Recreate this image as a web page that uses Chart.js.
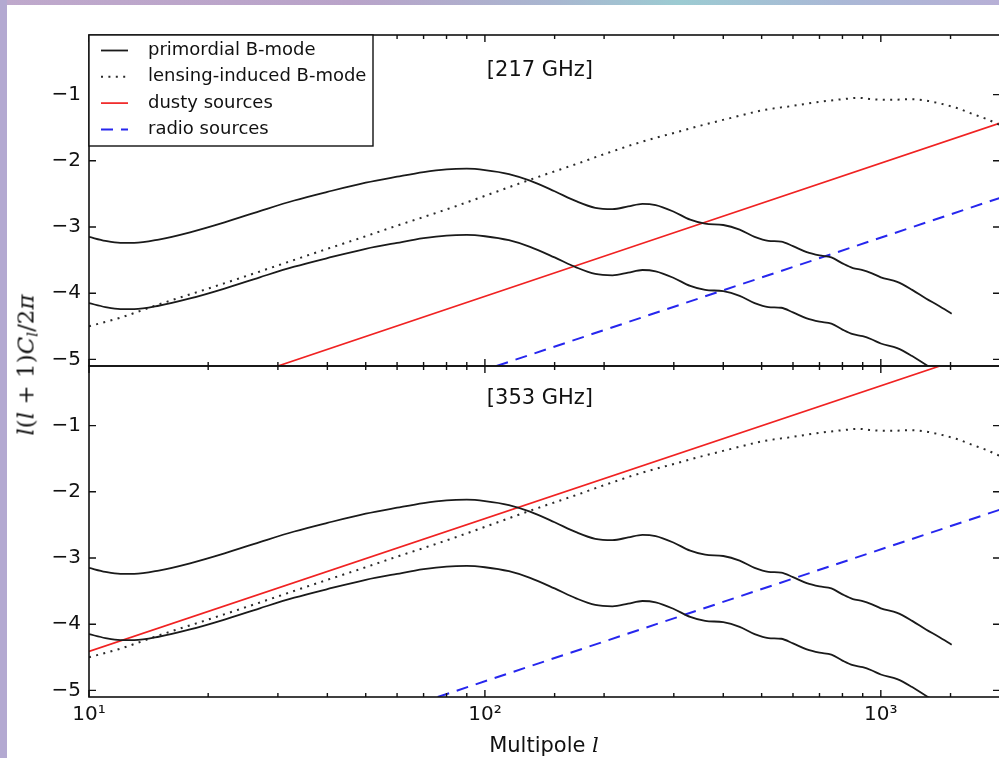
<!DOCTYPE html>
<html>
<head>
<meta charset="utf-8">
<script src="https://cdn.jsdelivr.net/npm/chart.js@4.4.1/dist/chart.umd.min.js"></script>
<style>
    html, body { margin: 0; padding: 0; overflow: hidden; background: #fff; }
    #frame { position: relative; width: 999px; height: 758px; overflow: hidden; background: #fff; }
    #topband { position: absolute; left: 0; top: 0; width: 999px; height: 5px;
        background: linear-gradient(to right, #bfa9cc 0%, #b9a3c9 35%, #a9b6d0 55%, #9ccbd2 68%, #aab8d6 84%, #b7b0d6 100%); }
    #leftband { position: absolute; left: 0; top: 0; width: 7px; height: 758px; background: #b3a9d1; }
    canvas { position: absolute; left: 0; top: 0; }
    #ylabel { position: absolute; left: 27px; top: 365px; transform: translate(-50%, -50%) rotate(-90deg);
        font: 23px "DejaVu Serif"; color: #111; white-space: nowrap; }
    #ylabel sub { font-size: 15px; vertical-align: -4px; }
    #xlabel { position: absolute; left: 544px; top: 745px; transform: translate(-50%, -50%);
        font: 21px "DejaVu Sans"; color: #111; white-space: nowrap; }
    #xlabel i { font-family: "DejaVu Serif"; }
</style>
</head>
<body>
<div id="frame">
    <div id="topband"></div>
    <div id="leftband"></div>
    <canvas id="topChart" width="1010" height="758"></canvas>
    <canvas id="bottomChart" width="1010" height="758"></canvas>
    <div id="ylabel"><i>l</i>(<i>l</i> + 1)<i>C<sub>l</sub></i>/2<i>π</i></div>
    <div id="xlabel">Multipole <i>l</i></div>
</div>
<script>
// multipoles and log10 spectra
const ells = [10, 11, 12, 13, 15, 18, 22, 27, 33, 40, 50, 60, 70, 80, 90, 100, 115, 130, 150, 170,
    190, 210, 230, 250, 270, 300, 330, 360, 400, 440, 480, 520, 560, 600, 650, 700, 750, 800, 850, 900,
    950, 1000, 1100, 1200, 1300, 1400, 1510];
const primordialHigh = [-3.15, -3.21, -3.24, -3.24, -3.19, -3.08, -2.93, -2.76, -2.60, -2.47, -2.33, -2.24, -2.17, -2.13, -2.12, -2.14, -2.20, -2.30, -2.46, -2.61,
    -2.71, -2.73, -2.69, -2.65, -2.67, -2.77, -2.89, -2.95, -2.97, -3.04, -3.15, -3.21, -3.22, -3.29, -3.38, -3.43, -3.46, -3.55, -3.62, -3.65,
    -3.70, -3.76, -3.83, -3.95, -4.08, -4.19, -4.31];
const primordialLow = [-4.15, -4.21, -4.24, -4.24, -4.19, -4.08, -3.93, -3.76, -3.60, -3.47, -3.33, -3.24, -3.17, -3.13, -3.12, -3.14, -3.20, -3.30, -3.46, -3.61,
    -3.71, -3.73, -3.69, -3.65, -3.67, -3.77, -3.89, -3.95, -3.97, -4.04, -4.15, -4.21, -4.22, -4.29, -4.38, -4.43, -4.46, -4.55, -4.62, -4.65,
    -4.70, -4.76, -4.83, -4.95, -5.08, -5.19, -5.31];
const lensingEll = [10, 12, 15, 20, 25, 30, 40, 50, 60, 70, 85, 100, 120, 140, 170, 200, 250, 300, 350, 420,
    500, 600, 700, 800, 880, 950, 1050, 1200, 1300, 1400, 1550, 1700, 1850, 2000];
const lensing = [-4.50, -4.37, -4.17, -3.93, -3.74, -3.58, -3.33, -3.14, -2.98, -2.85, -2.68, -2.53, -2.36, -2.22, -2.05, -1.90, -1.71, -1.58, -1.47, -1.35,
    -1.24, -1.17, -1.11, -1.07, -1.05, -1.07, -1.08, -1.07, -1.09, -1.13, -1.20, -1.29, -1.37, -1.46];
const dustyEll217 = [30, 2000];
const dusty217 = [-5.1, -1.43];
const radioEll217 = [107, 2000];
const radio217 = [-5.1, -2.56];
const dustyEll353 = [10, 1410];
const dusty353 = [-4.41, -0.1];
const radioEll353 = [76, 2000];
const radio353 = [-5.1, -2.27];

const yTicks = [-5, -4, -3, -2, -1];
const xMajor = [10, 100, 1000];
const xMajorLabels = ['10\u00b9', '10\u00b2', '10\u00b3'];
const panelLabels = ['[217 GHz]', '[353 GHz]'];

Chart.defaults.font.family = '"DejaVu Sans"';
Chart.defaults.font.size = 20;
Chart.defaults.color = '#111';

function pts(xs, ys) {
    return xs.map((x, i) => ({ x: x, y: ys[i] }));
}

function buildDatasets(dEll, dVal, rEll, rVal) {
    return [
        { label: 'primordial B-mode', inLegend: true, data: pts(ells, primordialHigh), borderColor: '#1a1a1a', borderWidth: 1.8 },
        { label: 'primordial B-mode', inLegend: false, data: pts(ells, primordialLow), borderColor: '#1a1a1a', borderWidth: 1.8 },
        { label: 'lensing-induced B-mode', inLegend: true, data: pts(lensingEll, lensing), borderColor: '#2a2a2a', borderWidth: 2, borderDash: [2, 5.4] },
        { label: 'dusty sources', inLegend: true, data: pts(dEll, dVal), borderColor: '#f02222', borderWidth: 1.7 },
        { label: 'radio sources', inLegend: true, data: pts(rEll, rVal), borderColor: '#2626ee', borderWidth: 2, borderDash: [12, 8] }
    ];
}

// frame, inward ticks, panel tag and legend box (matplotlib look)
const panelDecor = {
    id: 'panelDecor',
    afterDatasetsDraw(chart, args, opts) {
        const ctx = chart.ctx, a = chart.chartArea;
        const xs = chart.scales.x, ys = chart.scales.y;
        ctx.save();
        ctx.strokeStyle = '#111';
        ctx.lineWidth = 1.4;
        ctx.beginPath();
        xs.ticks.forEach(function(t) {
            const px = xs.getPixelForValue(t.value);
            const len = xMajor.some(m => Math.abs(m - t.value) < 1e-6) ? 7 : 4;
            ctx.moveTo(px, a.top); ctx.lineTo(px, a.top + len);
            ctx.moveTo(px, a.bottom); ctx.lineTo(px, a.bottom - len);
        });
        ys.ticks.forEach(function(t) {
            const py = ys.getPixelForValue(t.value);
            ctx.moveTo(a.left, py); ctx.lineTo(a.left + 7, py);
            ctx.moveTo(a.right, py); ctx.lineTo(a.right - 7, py);
        });
        ctx.stroke();
        ctx.lineWidth = 1.6;
        ctx.strokeRect(a.left, a.top, a.right - a.left, a.bottom - a.top);

        ctx.fillStyle = '#111';
        ctx.font = '21px "DejaVu Sans"';
        ctx.textAlign = 'center';
        ctx.textBaseline = 'middle';
        ctx.fillText(opts.label, a.left + (a.right - a.left) * 0.495, a.top + opts.labelY);

        if (opts.legend) {
            const items = chart.data.datasets.filter(d => d.inLegend);
            const bx = a.left, by = a.top, bw = 284, bh = 111;
            ctx.fillStyle = '#fff';
            ctx.fillRect(bx, by, bw, bh);
            ctx.lineWidth = 1.4;
            ctx.strokeStyle = '#111';
            ctx.strokeRect(bx, by, bw, bh);
            ctx.font = '18px "DejaVu Sans"';
            ctx.textAlign = 'left';
            items.forEach(function(d, i) {
                const cy = by + 15.5 + i * 26.3;
                ctx.beginPath();
                ctx.setLineDash(d.borderDash || []);
                ctx.strokeStyle = d.borderColor;
                ctx.lineWidth = d.borderWidth;
                ctx.moveTo(bx + 12, cy);
                ctx.lineTo(bx + 39, cy);
                ctx.stroke();
                ctx.setLineDash([]);
                ctx.fillStyle = '#111';
                ctx.fillText(d.label, bx + 59, cy);
            });
        }
        ctx.restore();
    }
};

function makeChart(id, datasets, cfg) {
    return new Chart(document.getElementById(id), {
        type: 'line',
        data: { datasets: datasets },
        options: {
            responsive: false,
            animation: false,
            layout: { padding: cfg.padding },
            elements: {
                point: { radius: 0 },
                line: { cubicInterpolationMode: 'monotone', fill: false }
            },
            plugins: {
                legend: { display: false },
                tooltip: { enabled: false },
                panelDecor: { label: cfg.label, labelY: cfg.labelY, legend: cfg.legend }
            },
            scales: {
                x: {
                    type: 'logarithmic',
                    min: 10,
                    max: 2000,
                    display: cfg.showX,
                    grid: { display: false, drawTicks: false, tickLength: 0 },
                    border: { display: false },
                    ticks: {
                        autoSkip: false,
                        maxRotation: 0,
                        padding: 6,
                        callback: function(v) {
                            const i = xMajor.findIndex(m => Math.abs(m - v) < 1e-6);
                            return i >= 0 ? xMajorLabels[i] : '';
                        }
                    },
                    afterFit: function(s) { s.height = cfg.showX ? 61 : 0; }
                },
                y: {
                    min: -5.1,
                    max: -0.1,
                    grid: { display: false, drawTicks: false, tickLength: 0 },
                    border: { display: false },
                    afterBuildTicks: function(s) { s.ticks = yTicks.map(v => ({ value: v })); },
                    ticks: {
                        padding: 8,
                        callback: function(v) { return '\u2212' + Math.abs(v); }
                    },
                    afterFit: function(s) { s.width = 89; }
                }
            }
        },
        plugins: [panelDecor]
    });
}

makeChart('topChart', buildDatasets(dustyEll217, dusty217, radioEll217, radio217), {
    padding: { top: 35, bottom: 392, left: 0, right: 10 },
    showX: false,
    label: panelLabels[0],
    labelY: 36,
    legend: true
});

makeChart('bottomChart', buildDatasets(dustyEll353, dusty353, radioEll353, radio353), {
    padding: { top: 366, bottom: 0, left: 0, right: 10 },
    showX: true,
    label: panelLabels[1],
    labelY: 33,
    legend: false
});
</script>
</body>
</html>
